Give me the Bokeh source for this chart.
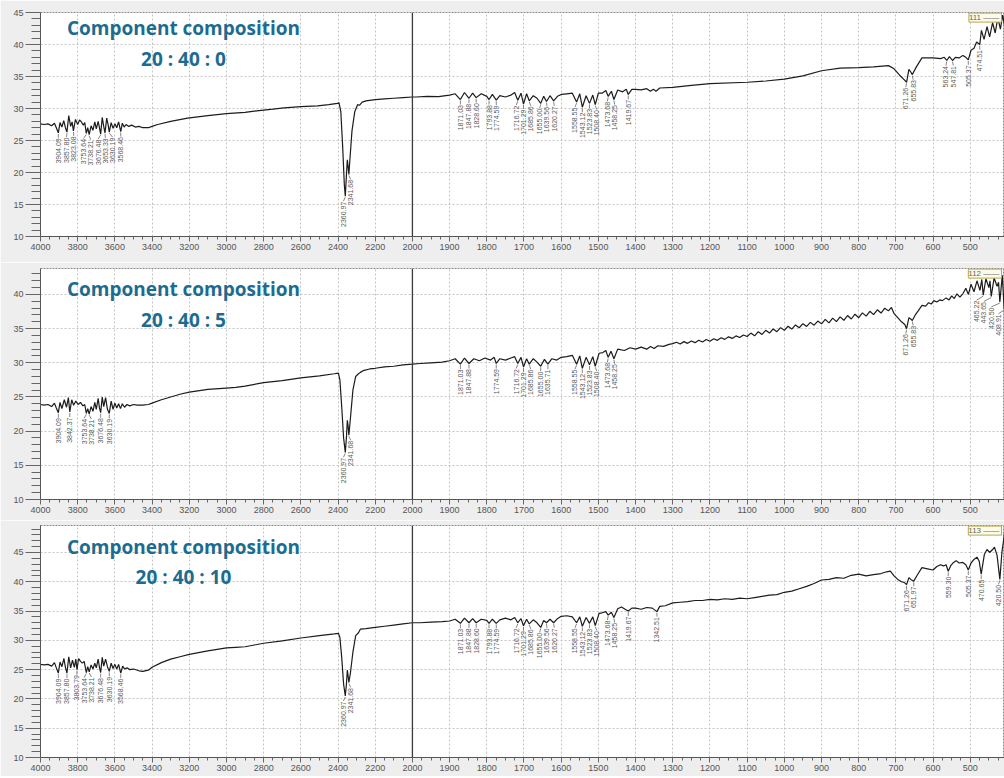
import numpy as np
from bokeh.plotting import figure
from bokeh.models import (Range1d, FixedTicker, SingleIntervalTicker, Label, Span, ColumnDataSource,
                          CustomJSTransform, CustomJSTickFormatter)
from bokeh.transform import transform
from bokeh.layouts import column
from bokeh.embed import file_html
from bokeh.resources import INLINE
from bokeh.core.properties import value

# ---------------- data ----------------
titles = ["20 : 40 : 0", "20 : 40 : 5", "20 : 40 : 10"]
tags = ["111", "112", "113"]
heading = "Component composition"

x_major_left = [4000, 3800, 3600, 3400, 3200, 3000, 2800, 2600, 2400, 2200, 2000]
x_major_right = [1900, 1800, 1700, 1600, 1500, 1400, 1300, 1200, 1100, 1000, 900, 800, 700, 600, 500]

p1_wn = [4000, 3980, 3960, 3940, 3925, 3915, 3904.09, 3895, 3885, 3875, 3866, 3857.80, 3848, 3838, 3830,
         3823.08, 3812, 3800, 3790, 3780, 3770, 3762, 3753.64, 3746, 3738.21, 3728, 3718, 3708, 3700, 3690,
         3683, 3676.48, 3668, 3660, 3653.33, 3644, 3636, 3630.19, 3620, 3610, 3600, 3590, 3580, 3568.46,
         3560, 3550, 3540, 3525, 3510, 3490, 3470, 3450, 3420, 3400, 3370, 3300, 3209, 3100, 3000, 2900,
         2850, 2750, 2690, 2600, 2510, 2450, 2403, 2395, 2385, 2375, 2366, 2360.97, 2355, 2350, 2346,
         2341.68, 2335, 2325, 2310, 2295, 2285, 2270, 2250, 2200, 2150, 2100, 2050, 2000,
         1990, 1960, 1930, 1900, 1885, 1871.03, 1860, 1847.88, 1838, 1828.60, 1815, 1800, 1793.88, 1785,
         1774.59, 1765, 1750, 1735, 1725, 1716.72, 1708, 1701.29, 1693, 1685.86, 1675, 1665, 1655.00, 1647,
         1639.56, 1630, 1620.27, 1610, 1600, 1585, 1570, 1558.55, 1550, 1543.12, 1533, 1523.83, 1515,
         1508.40, 1500, 1490, 1480, 1473.68, 1465, 1458.25, 1448, 1435, 1425, 1419.67, 1410, 1400, 1385,
         1370, 1360, 1352, 1345, 1335, 1300, 1250, 1200, 1100, 1050, 1000, 950, 900, 850, 800, 760, 720,
         705, 690, 678, 671.26, 665, 660, 655.83, 645, 630, 600, 580, 570, 563.24, 556, 547.81, 540, 530,
         520, 512, 505.37, 498, 490, 483, 474.51, 470, 463, 455, 448, 440, 433, 426, 419, 413, 408]
p1_t = [27.6, 27.5, 27.6, 27.3, 27.7, 27.0, 26.2, 27.8, 27.1, 28.1, 27.0, 26.3, 28.9, 27.2, 27.9,
        26.5, 28.3, 27.5, 28.2, 27.9, 27.4, 27.8, 26.1, 27.0, 25.9, 27.3, 26.6, 27.9, 26.8, 28.0,
        27.0, 26.0, 28.6, 27.2, 26.2, 28.5, 27.4, 26.3, 27.8, 26.9, 27.6, 27.0, 27.9, 26.4,
        27.7, 27.1, 27.5, 27.2, 27.4, 27.1, 27.2, 27.0, 27.0, 27.2, 27.5, 28.0, 28.5, 28.9, 29.2, 29.4,
        29.6, 29.9, 30.1, 30.3, 30.4, 30.6, 30.8, 30.9, 29.5, 24.0, 18.0, 16.3, 19.5, 22.0, 21.0,
        19.7, 22.5, 26.5, 29.5, 30.6, 30.5, 31.0, 31.2, 31.4, 31.5, 31.6, 31.7, 31.8,
        31.8, 31.9, 31.85, 32.1, 32.3, 31.4, 32.5, 31.6, 32.4, 31.7, 32.3, 31.9, 31.4, 32.2,
        31.3, 32.0, 31.8, 32.1, 32.5, 31.3, 32.4, 30.7, 32.3, 31.2, 32.0, 31.6, 30.8, 31.9,
        31.1, 32.0, 31.2, 31.9, 32.2, 32.3, 32.4, 31.0, 32.3, 30.2, 32.0, 30.8, 32.1,
        30.6, 32.4, 32.4, 32.8, 31.9, 32.7, 31.4, 32.9, 32.6, 33.0, 32.2, 33.0, 33.0, 32.9,
        33.1, 32.7, 33.0, 32.7, 33.2, 33.3, 33.6, 33.9, 34.1, 34.3, 34.6, 35.1, 35.9, 36.3, 36.4, 36.5, 36.7,
        36.2, 35.2, 34.5, 34.1, 36.1, 35.7, 35.3, 36.5, 37.9, 37.9, 37.8, 38.0, 37.5, 38.1, 37.5, 38.0, 37.9,
        38.3, 38.0, 37.6, 39.1, 39.4, 40.4, 40.0, 42.2, 40.8, 42.8, 41.2, 43.4, 41.8, 44.2, 42.4, 44.6, 43.0]
p1_peaks = [3904.09, 3857.80, 3823.08, 3753.64, 3738.21, 3676.48, 3653.33, 3630.19, 3568.46,
            2360.97, 2341.68, 1871.03, 1847.88, 1828.60, 1793.88, 1774.59, 1716.72, 1701.29, 1685.86,
            1655.00, 1639.56, 1620.27, 1558.55, 1543.12, 1523.83, 1508.40, 1473.68, 1458.25, 1419.67,
            671.26, 655.83, 563.24, 547.81, 505.37, 474.51]

p2_wn = [4000, 3980, 3960, 3940, 3925, 3915, 3904.09, 3895, 3885, 3872, 3860, 3850, 3842.37, 3832, 3822,
         3810, 3798, 3785, 3772, 3762, 3753.64, 3746, 3738.21, 3728, 3718, 3708, 3700, 3690, 3683, 3676.48,
         3668, 3660, 3650, 3640, 3630.19, 3620, 3610, 3600, 3590, 3580, 3570, 3560, 3548, 3535, 3520, 3500,
         3480, 3450, 3420, 3400, 3350, 3300, 3250, 3200, 3100, 3000, 2950, 2900, 2800, 2700, 2600, 2500,
         2420, 2398, 2390, 2380, 2370, 2360.97, 2355, 2350, 2346, 2341.68, 2333, 2320, 2305, 2290, 2280,
         2260, 2230, 2200, 2150, 2100, 2050, 2000,
         1980, 1950, 1920, 1900, 1885, 1871.03, 1860, 1847.88, 1835, 1820, 1805, 1790, 1780, 1774.59, 1765,
         1750, 1735, 1725, 1716.72, 1708, 1701.29, 1693, 1685.86, 1675, 1665, 1655.00, 1645, 1635.71, 1625,
         1612, 1600, 1585, 1570, 1558.55, 1550, 1543.12, 1533, 1523.83, 1515, 1508.40, 1498, 1488, 1480,
         1473.68, 1466, 1458.25, 1448, 1430, 1415, 1400, 1385, 1370, 1360, 1350, 1340, 1325, 1310, 1300,
         1290, 1280, 1270, 1260, 1250, 1240, 1230, 1220, 1210, 1200, 1190, 1180, 1170, 1160, 1150, 1140,
         1130, 1120, 1110, 1100, 1090, 1080, 1070, 1060, 1050, 1040, 1030, 1020, 1010, 1000, 990, 980,
         970, 960, 950, 940, 930, 920, 910, 900, 890, 880, 870, 860, 850, 840, 830, 820, 810, 800, 790,
         780, 770, 760, 750, 740, 730, 720, 712, 705, 695, 685, 676, 671.26, 665, 660, 655.83, 648, 640,
         630, 620, 612, 605, 598, 590, 582, 575, 565, 557, 550, 543, 536, 528, 520, 512, 505, 498, 490,
         482, 474, 469, 465.22, 458, 450, 447, 443.65, 436, 428, 424, 420.50, 414, 408.91, 405]
p2_t = [23.9, 23.8, 23.9, 23.6, 24.1, 23.4, 22.7, 24.2, 23.3, 24.6, 23.5, 24.9, 22.8, 24.6, 23.8,
        24.4, 23.9, 24.2, 23.7, 23.9, 22.6, 23.3, 22.5, 23.6, 22.9, 24.2, 23.2, 24.8, 23.4, 22.7,
        25.0, 23.6, 24.9, 23.2, 22.6, 24.4, 23.2, 24.1, 23.4, 24.0, 23.3, 24.0, 23.5, 23.9, 23.7, 23.9,
        23.8, 23.8, 23.9, 24.1, 24.6, 25.0, 25.4, 25.7, 26.1, 26.3, 26.4, 26.6, 27.1, 27.4, 27.8, 28.1,
        28.4, 28.5, 27.5, 23.5, 19.0, 16.9, 19.0, 21.6, 20.8, 19.4, 22.0, 26.0, 28.0, 28.4, 28.6,
        28.9, 29.1, 29.2, 29.4, 29.5, 29.7, 29.8,
        29.9, 30.0, 30.1, 30.3, 30.6, 29.8, 30.7, 29.9, 30.6, 30.3, 30.7, 30.4, 30.8, 29.9, 30.6,
        30.4, 30.7, 30.9, 29.9, 30.8, 29.4, 30.6, 29.8, 30.6, 30.1, 29.5, 30.5, 29.8, 30.6,
        30.4, 30.8, 30.9, 31.1, 29.8, 31.0, 29.2, 30.8, 29.7, 30.9, 29.5, 31.4, 31.5, 31.8,
        30.8, 31.7, 30.6, 32.0, 31.8, 32.2, 32.0, 32.3, 32.0, 32.4, 32.1, 32.5, 32.4, 32.7, 32.8,
        33.0, 32.75, 33.1, 32.85, 33.2, 32.95, 33.3, 33.05, 33.4, 33.15, 33.52, 33.29, 33.66, 33.43, 33.8, 33.57,
        33.94, 33.71, 34.08, 33.85, 34.35, 33.95, 34.55, 34.15, 34.75, 34.35, 34.95, 34.55, 35.15, 34.75, 35.35, 34.94,
        35.54, 35.13, 35.73, 35.32, 35.92, 35.51, 36.11, 35.7, 36.35, 35.84, 36.54, 36.03, 36.73, 36.22, 36.92, 36.41, 37.11, 36.6, 37.31,
        36.83, 37.54, 37.05, 37.76, 37.28, 37.99, 37.6, 38.1, 37.2, 36.6, 36.0, 35.6, 35.0, 36.6, 36.4, 36.2, 37.0, 37.6,
        38.4, 38.3, 38.8, 38.6, 39.1, 38.9, 39.2, 39.1, 39.5, 39.2, 39.8, 39.4, 40.1, 39.6, 40.1, 40.9, 40.0, 41.5, 40.4,
        42.0, 40.6, 42.2, 39.9, 42.3, 41.0, 42.0, 39.7, 42.4, 41.2, 41.8, 38.9, 42.8, 37.9, 40.0]
p2_peaks = [3904.09, 3842.37, 3753.64, 3738.21, 3676.48, 3630.19, 2360.97, 2341.68,
            1871.03, 1847.88, 1774.59, 1716.72, 1701.29, 1685.86, 1655.00, 1635.71, 1558.55, 1543.12,
            1523.83, 1508.40, 1473.68, 1458.25, 671.26, 655.83, 465.22, 443.65, 420.50, 408.91]

p3_wn = [4000, 3980, 3960, 3940, 3925, 3915, 3904.09, 3895, 3885, 3874, 3866, 3857.80, 3848, 3838, 3828,
         3818, 3810, 3803.79, 3795, 3785, 3775, 3765, 3753.64, 3746, 3738.21, 3728, 3718, 3708, 3700, 3690,
         3683, 3676.48, 3668, 3660, 3650, 3640, 3630.19, 3620, 3610, 3600, 3590, 3580, 3568.46, 3558, 3548,
         3535, 3520, 3500, 3470, 3450, 3420, 3400, 3350, 3300, 3250, 3200, 3100, 3000, 2950, 2900, 2850,
         2800, 2700, 2600, 2500, 2420, 2398, 2390, 2380, 2370, 2360.97, 2355, 2350, 2346, 2341.68, 2333,
         2320, 2305, 2290, 2280, 2250, 2200, 2150, 2100, 2050, 2000,
         1980, 1950, 1920, 1900, 1885, 1871.03, 1860, 1847.88, 1838, 1828.60, 1815, 1800, 1793.88, 1785,
         1774.59, 1765, 1750, 1735, 1725, 1716.72, 1708, 1701.29, 1693, 1685.86, 1675, 1665, 1655.00, 1647,
         1639.56, 1630, 1620.27, 1610, 1600, 1585, 1570, 1558.55, 1550, 1543.12, 1533, 1523.83, 1515,
         1508.40, 1498, 1490, 1480, 1473.68, 1465, 1458.25, 1448, 1438, 1428, 1419.67, 1410, 1400, 1385,
         1370, 1355, 1342.51, 1335, 1320, 1300, 1280, 1260, 1240, 1220, 1200, 1180, 1160, 1140, 1120, 1100,
         1080, 1060, 1040, 1020, 1000, 980, 960, 940, 920, 900, 880, 860, 840, 820, 800, 780, 760, 740, 725,
         715, 705, 695, 685, 678, 671.26, 665, 660, 651.97, 642, 630, 615, 600, 590, 580, 572, 565, 559.30,
         552, 545, 538, 530, 520, 512, 505.37, 498, 490, 482, 476, 470.65, 462, 455, 448, 440, 435, 428,
         420.50, 415, 410, 406]
p3_t = [25.9, 25.8, 25.9, 25.6, 26.2, 25.3, 24.4, 26.3, 25.5, 26.9, 25.4, 24.4, 27.2, 25.3, 26.6,
        25.4, 26.8, 25.0, 26.9, 26.4, 26.1, 26.4, 24.5, 25.5, 24.6, 25.8, 25.1, 26.1, 25.3, 26.8,
        25.4, 24.5, 27.1, 25.6, 26.8, 25.5, 24.7, 26.1, 25.2, 25.9, 25.1, 25.9, 24.4, 25.6, 25.1,
        25.3, 25.0, 25.1, 24.8, 24.7, 24.9, 25.4, 26.2, 26.8, 27.2, 27.6, 28.2, 28.7, 28.8, 28.9, 29.2,
        29.5, 29.9, 30.4, 30.8, 31.1, 31.2, 30.5, 27.0, 22.5, 20.5, 22.5, 24.9, 24.0, 22.8, 24.5,
        28.0, 30.8, 31.3, 31.9, 32.0, 32.2, 32.4, 32.6, 32.8, 33.0,
        33.0, 33.1, 33.2, 33.3, 33.6, 32.9, 33.8, 33.0, 33.7, 33.0, 33.6, 33.4, 32.9, 33.6,
        32.9, 33.5, 33.8, 33.5, 33.9, 33.0, 33.7, 32.5, 33.6, 32.8, 33.5, 33.0, 32.2, 33.4,
        33.0, 33.6, 33.0, 33.7, 34.1, 34.2, 34.0, 33.0, 34.0, 32.4, 33.9, 32.9, 34.0,
        32.5, 34.6, 34.7, 34.9, 34.3, 34.8, 33.9, 35.4, 35.7, 35.3, 35.0, 35.5, 35.5, 35.3,
        35.6, 35.5, 34.9, 35.8, 35.9, 36.4, 36.5, 36.6, 36.8, 36.8, 37.0, 36.9, 37.1, 37.0, 37.2, 37.1,
        37.3, 37.5, 37.7, 37.8, 38.2, 38.4, 38.8, 39.2, 39.7, 40.3, 40.4, 40.7, 40.6, 41.1, 41.3, 41.0, 41.2, 41.4, 41.7,
        41.8, 41.0, 40.4, 40.0, 39.9, 39.5, 40.7, 40.4, 40.1, 41.2, 42.4, 42.2, 42.0, 42.6, 42.9, 42.7, 42.9, 41.8,
        42.8, 43.3, 43.6, 43.2, 43.3, 42.9, 42.0, 43.2, 43.8, 44.2, 43.5, 41.3, 44.7, 45.5, 45.0, 45.5, 45.9, 44.5,
        40.4, 45.0, 47.3, 49.5]
p3_peaks = [3904.09, 3857.80, 3803.79, 3753.64, 3738.21, 3676.48, 3630.19, 3568.46, 2360.97, 2341.68,
            1871.03, 1847.88, 1828.60, 1793.88, 1774.59, 1716.72, 1701.29, 1685.86, 1655.00, 1639.56,
            1620.27, 1558.55, 1543.12, 1523.83, 1508.40, 1473.68, 1458.25, 1419.67, 1342.51,
            671.26, 651.97, 559.30, 505.37, 470.65, 420.50]

# ---------------- broken wavenumber axis (4000-2000 at half scale) ----------------
W_BREAK, W_END = 2000, 408


def to_u(w):
    return (4000 - w) / 2.0 if w >= W_BREAK else 1000 + (W_BREAK - w)


U_END = to_u(W_END)
brk = CustomJSTransform(
    func="return x >= 2000 ? (4000 - x) / 2 : 1000 + (2000 - x);",
    v_func="const out = new Float64Array(xs.length);"
           "for (let i = 0; i < xs.length; i++) { const x = xs[i];"
           " out[i] = x >= 2000 ? (4000 - x) / 2 : 1000 + (2000 - x); } return out;")
fmt = CustomJSTickFormatter(code="const w = tick <= 1000 ? 4000 - 2 * tick : 2000 - (tick - 1000);"
                                 " return String(Math.round(w));")

W, LB = 1004, 40
FRAME_W = W - LB
PXU = FRAME_W / U_END
BORDER = "#eeeeee"
TITLE_COLOR = "#1b6c90"
TXT = "#555555"
LABEL_GAP = 7.3

major_u = [to_u(w) for w in x_major_left] + [to_u(w) for w in x_major_right]
minor_u = sorted(set([to_u(w) for w in range(4000, 1999, -50)] + [to_u(w) for w in range(1975, W_END, -25)]))

panels = [
    dict(wn=p1_wn, t=p1_t, peaks=p1_peaks, ymax=45.0, top=12, frame=224, bottom=26, pct_y=43.0, t1=15, t2=46),
    dict(wn=p2_wn, t=p2_t, peaks=p2_peaks, ymax=43.8, top=6, frame=231, bottom=21, pct_y=37.5, t1=20, t2=51),
    dict(wn=p3_wn, t=p3_t, peaks=p3_peaks, ymax=49.6, top=5, frame=232, bottom=19, pct_y=42.6, t1=21, t2=51),
]


def spread(ideal, d, hi):
    clusters = []
    for x in ideal:
        clusters.append([x])
        while len(clusters) > 1:
            a, b = clusters[-2], clusters[-1]
            sa = np.mean(a) - (len(a) - 1) * d / 2
            sb = np.mean(b) - (len(b) - 1) * d / 2
            if sa + len(a) * d > sb:
                clusters[-2:] = [a + b]
            else:
                break
    out = []
    for c in clusters:
        s = np.mean(c) - (len(c) - 1) * d / 2
        out += [s + i * d for i in range(len(c))]
    n = len(out)
    for j in range(n - 1, -1, -1):
        out[j] = min(out[j], hi - (n - 1 - j) * d)
    return out


figs = []
for i, pn in enumerate(panels):
    H = pn["top"] + pn["frame"] + pn["bottom"]
    ppu = pn["frame"] / (pn["ymax"] - 10)
    p = figure(width=W, height=H, x_range=Range1d(0, U_END), y_range=Range1d(10, pn["ymax"]),
               output_backend="svg", toolbar_location=None, min_border_left=LB, min_border_right=0,
               min_border_top=pn["top"], min_border_bottom=pn["bottom"])
    p.background_fill_color = "white"
    p.border_fill_color = BORDER
    p.outline_line_color = "#8a8a8a"
    p.outline_line_dash = "2 1"

    ax = p.xaxis[0]
    ax.ticker = FixedTicker(ticks=major_u, minor_ticks=minor_u)
    ax.formatter = fmt
    ax.axis_line_color = "#555555"
    ax.major_tick_line_color = "#666666"
    ax.minor_tick_line_color = "#666666"
    ax.major_tick_out = 5
    ax.major_tick_in = 0
    ax.minor_tick_out = 3
    ax.minor_tick_in = 0
    ax.major_label_standoff = 2
    ax.major_label_text_font = "Liberation Sans"
    ax.major_label_text_font_size = "9px"
    ax.major_label_text_color = TXT

    ay = p.yaxis[0]
    ay.ticker = SingleIntervalTicker(interval=5, num_minor_ticks=5)
    ay.axis_line_color = "#555555"
    ay.major_tick_line_color = "#666666"
    ay.minor_tick_line_color = "#666666"
    ay.major_tick_out = 15
    ay.major_tick_in = 0
    ay.minor_tick_out = 9
    ay.minor_tick_in = 0
    ay.major_label_standoff = 2
    ay.major_label_text_font = "Liberation Sans"
    ay.major_label_text_font_size = "9px"
    ay.major_label_text_color = TXT

    p.xgrid.ticker = FixedTicker(ticks=major_u)
    p.ygrid.ticker = SingleIntervalTicker(interval=5)
    for g in (p.xgrid, p.ygrid):
        g.grid_line_color = "#c4c4c4"
        g.grid_line_dash = "2 2"

    p.add_layout(Span(location=to_u(W_BREAK), dimension="height", line_color="#3a3a3a", line_width=1.3))

    src = ColumnDataSource(dict(wn=pn["wn"], t=pn["t"]))
    p.line(x=transform("wn", brk), y="t", source=src, line_color="#1c1c1c", line_width=1.2)

    # peak labels with leader lines
    wa = np.array(pn["wn"])[::-1]
    ta = np.array(pn["t"])[::-1]
    sel = sorted(pn["peaks"], reverse=True)
    pv = np.interp(sel, wa, ta)
    lu = []
    for side, hi in ((lambda w: w >= W_BREAK, to_u(W_BREAK) * PXU - 6),
                     (lambda w: w < W_BREAK, FRAME_W - 6)):
        grp = [w for w in sel if side(w)]
        lu += [s / PXU for s in spread([to_u(w) * PXU for w in grp], LABEL_GAP, hi)]
    lsrc = ColumnDataSource(dict(
        pk=sel, y0=list(pv - 1.0 / ppu), lu=lu, y1=list(pv - 5.0 / ppu),
        ly=list(pv - 5.5 / ppu), txt=["%.2f" % w for w in sel]))
    p.segment(x0=transform("pk", brk), y0="y0", x1="lu", y1="y1", source=lsrc,
              line_color="#666666", line_width=0.8)
    p.text(x="lu", y="ly", text="txt", source=lsrc, angle=np.pi / 2, text_align="right",
           text_baseline="middle", text_font=value("Liberation Sans"), text_font_size="7px",
           text_color="#5a5a5a")

    xt = 143 / PXU
    for txt, off in ((heading, pn["t1"]), (titles[i], pn["t2"])):
        p.add_layout(Label(x=xt, y=pn["ymax"] - off / ppu, text=txt, text_align="center",
                           text_baseline="middle", text_font="Open Sans", text_font_style="bold",
                           text_font_size="19px", text_color=TITLE_COLOR))
    p.add_layout(Label(x=0, y=pn["pct_y"], x_offset=-31, text="%T", text_align="left",
                       text_baseline="middle", text_font="Liberation Sans", text_font_size="7px",
                       text_color=TXT))
    p.add_layout(Label(x=U_END, x_offset=-3, y=pn["ymax"] - 0.6 / ppu, text=tags[i] + "  \u2014\u2014",
                       text_align="right", text_baseline="top", text_font="Liberation Sans",
                       text_font_size="8px", text_color="#666666", background_fill_color="#fcfbe9",
                       border_line_color="#b8a845", border_line_width=1))
    p.add_layout(Label(x=U_END, x_offset=-3, y=10 - 14.0 / ppu, text="cm-1", text_align="right",
                       text_baseline="middle", text_font="Liberation Sans", text_font_size="8px",
                       text_color=TXT))
    figs.append(p)

layout = column(*figs)
open("out.html", "w").write(file_html(layout, INLINE))
